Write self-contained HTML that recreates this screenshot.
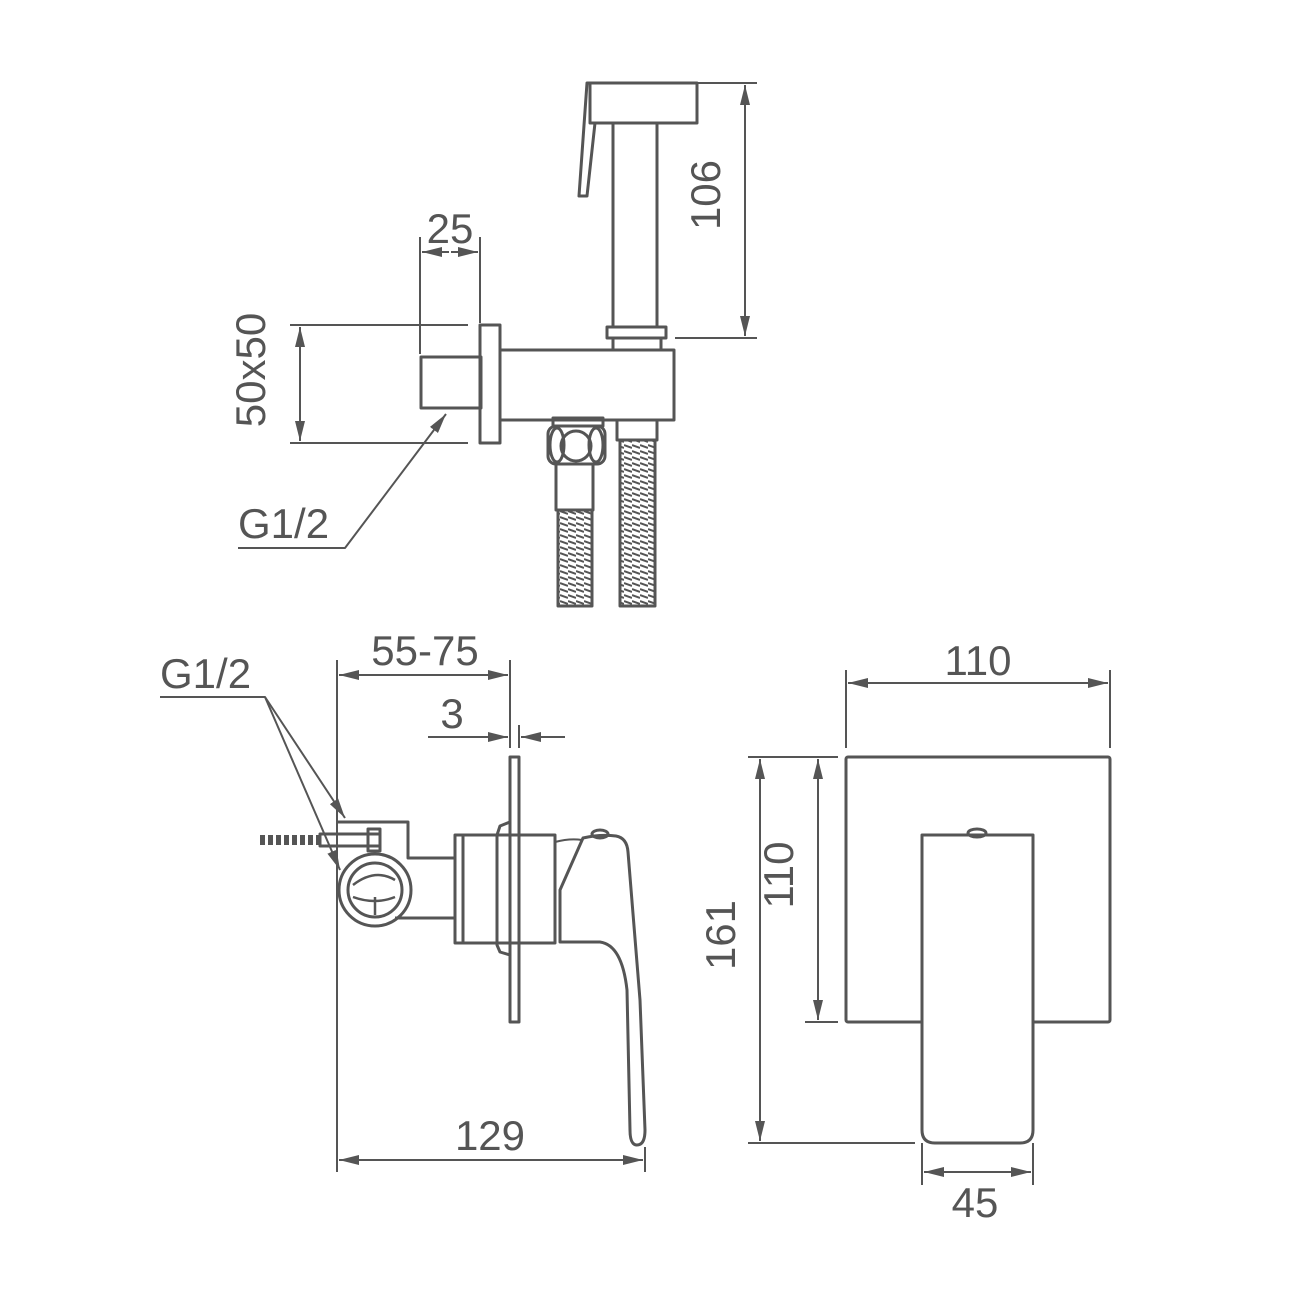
<!DOCTYPE html>
<html><head><meta charset="utf-8"><style>html,body{margin:0;padding:0;background:#fff}svg{display:block}</style></head>
<body>
<svg width="1300" height="1300" viewBox="0 0 1300 1300" xmlns="http://www.w3.org/2000/svg">
<defs>
<marker id="a" viewBox="0 0 20 10" refX="20" refY="5" markerWidth="20" markerHeight="10" markerUnits="userSpaceOnUse" orient="auto-start-reverse"><path d="M0,0 L20,5 L0,10 z" fill="#555"/></marker>
<pattern id="hose" width="8" height="6" patternUnits="userSpaceOnUse"><line x1="0" y1="1" x2="8" y2="4" stroke="#555" stroke-width="2"/></pattern>
</defs>
<g fill="none" stroke="#555" stroke-width="3" stroke-linejoin="round">
<!-- TOP VIEW -->
<line x1="590" y1="83" x2="757" y2="83" stroke-width="2"/>
<line x1="675" y1="338" x2="757" y2="338" stroke-width="2"/>
<line x1="745" y1="85" x2="745" y2="336" stroke-width="2" marker-start="url(#a)" marker-end="url(#a)"/>
<rect x="590" y="83" width="107" height="40"/>
<path d="M590,83 L587,83 L579,196 L587,196 L595,123"/>
<rect x="613" y="123" width="44" height="204"/>
<rect x="607" y="327" width="59" height="11"/>
<rect x="613" y="338" width="48" height="12"/>
<rect x="500" y="350" width="174" height="70"/>
<rect x="480" y="325" width="20" height="118"/>
<rect x="421" y="357" width="60" height="51"/>
<line x1="420" y1="237" x2="420" y2="354" stroke-width="2"/>
<line x1="480" y1="237" x2="480" y2="323" stroke-width="2"/>
<line x1="422" y1="252" x2="449" y2="252" stroke-width="2" marker-start="url(#a)"/>
<line x1="451" y1="252" x2="478" y2="252" stroke-width="2" marker-end="url(#a)"/>
<line x1="290" y1="325" x2="468" y2="325" stroke-width="2"/>
<line x1="290" y1="443" x2="468" y2="443" stroke-width="2"/>
<line x1="300" y1="327" x2="300" y2="441" stroke-width="2" marker-start="url(#a)" marker-end="url(#a)"/>
<polyline points="238,548 345,548 446,414" stroke-width="2" marker-end="url(#a)"/>
<rect x="553" y="418" width="50" height="8"/>
<rect x="548" y="426" width="57" height="38" rx="8"/>
<ellipse cx="557" cy="445" rx="7" ry="17"/>
<ellipse cx="596" cy="445" rx="7" ry="17"/>
<circle cx="576" cy="446" r="15"/>
<rect x="556" y="464" width="37" height="46"/>
<rect x="558" y="510" width="34" height="96" fill="url(#hose)"/>
<rect x="617" y="420" width="40" height="20"/>
<rect x="620" y="440" width="35" height="166" fill="url(#hose)"/>

<!-- BOTTOM LEFT -->
<line x1="337" y1="660" x2="337" y2="1172" stroke-width="2"/>
<line x1="510" y1="660" x2="510" y2="748" stroke-width="2"/>
<line x1="339" y1="675" x2="508" y2="675" stroke-width="2" marker-start="url(#a)" marker-end="url(#a)"/>
<line x1="428" y1="737" x2="508" y2="737" stroke-width="2" marker-end="url(#a)"/>
<line x1="565" y1="737" x2="521" y2="737" stroke-width="2" marker-end="url(#a)"/>
<line x1="519" y1="725" x2="519" y2="748" stroke-width="2"/>
<polyline points="160,697 265,697 345,818" stroke-width="2" marker-end="url(#a)"/>
<line x1="265" y1="697" x2="340" y2="870" stroke-width="2" marker-end="url(#a)"/>
<rect x="510" y="757" width="9" height="265"/>
<path d="M510,822 L500,826 L497,835 L497,945 L500,952 L510,955"/>
<path d="M337,822 L408,822 L408,858 L455,858 M455,918 L395,918"/>
<circle cx="375" cy="890" r="36"/>
<circle cx="375" cy="890" r="27"/>
<path d="M353,885 Q375,868 395,880 M353,897 Q375,905 395,897 M375,897 L375,915" stroke-width="2.5"/>
<path d="M260,840 L320,840" stroke-width="10" stroke-dasharray="5 3"/>
<rect x="320" y="834" width="60" height="12"/>
<rect x="368" y="829" width="12" height="22"/>
<rect x="455" y="835" width="100" height="108"/>
<line x1="463" y1="835" x2="463" y2="943"/>
<path d="M555,842 Q570,838 582,840" stroke-width="2"/>
<path d="M560,942 L560,890 L583,838 Q600,834 616,836 Q627,838 628,852 L640,1000 L645,1130 Q645,1145 637,1145 Q630,1145 630,1130 L627,990 Q622,945 600,942 Z"/>
<ellipse cx="600" cy="834" rx="8" ry="4"/>
<line x1="645" y1="1147" x2="645" y2="1172" stroke-width="2"/>
<line x1="339" y1="1160" x2="643" y2="1160" stroke-width="2" marker-start="url(#a)" marker-end="url(#a)"/>

<!-- BOTTOM RIGHT -->
<rect x="846" y="757" width="264" height="265" rx="2"/>
<path d="M922,1022 L922,1130 Q922,1143 935,1143 L1020,1143 Q1033,1143 1033,1130 L1033,835 L922,835 Z" fill="#fff"/>
<ellipse cx="977" cy="833" rx="9" ry="4"/>
<line x1="846" y1="670" x2="846" y2="748" stroke-width="2"/>
<line x1="1110" y1="670" x2="1110" y2="748" stroke-width="2"/>
<line x1="848" y1="683" x2="1108" y2="683" stroke-width="2" marker-start="url(#a)" marker-end="url(#a)"/>
<line x1="748" y1="757" x2="838" y2="757" stroke-width="2"/>
<line x1="748" y1="1143" x2="915" y2="1143" stroke-width="2"/>
<line x1="805" y1="1022" x2="838" y2="1022" stroke-width="2"/>
<line x1="760" y1="759" x2="760" y2="1141" stroke-width="2" marker-start="url(#a)" marker-end="url(#a)"/>
<line x1="818" y1="759" x2="818" y2="1020" stroke-width="2" marker-start="url(#a)" marker-end="url(#a)"/>
<line x1="922" y1="1143" x2="922" y2="1185" stroke-width="2"/>
<line x1="1033" y1="1143" x2="1033" y2="1185" stroke-width="2"/>
<line x1="924" y1="1172" x2="1031" y2="1172" stroke-width="2" marker-start="url(#a)" marker-end="url(#a)"/>
</g>
<g fill="#555" font-family="Liberation Sans, sans-serif" font-size="42">
<text x="735" y="210" text-anchor="middle" transform="rotate(-90 720 210)">106</text>
<text x="450" y="243" text-anchor="middle">25</text>
<text x="280" y="385" text-anchor="middle" transform="rotate(-90 265 385)">50x50</text>
<text x="238" y="538">G1/2</text>
<text x="425" y="665" text-anchor="middle">55-75</text>
<text x="452" y="728" text-anchor="middle">3</text>
<text x="160" y="688">G1/2</text>
<text x="490" y="1150" text-anchor="middle">129</text>
<text x="978" y="675" text-anchor="middle">110</text>
<text x="750" y="950" text-anchor="middle" transform="rotate(-90 735 950)">161</text>
<text x="808" y="890" text-anchor="middle" transform="rotate(-90 793 890)">110</text>
<text x="975" y="1217" text-anchor="middle">45</text>
</g>
</svg>
</body></html>
